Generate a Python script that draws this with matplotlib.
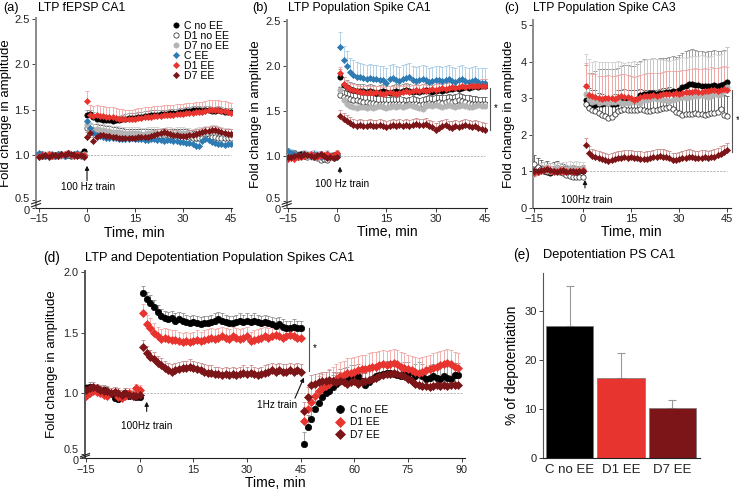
import numpy as np
import matplotlib
matplotlib.use('Agg')
import matplotlib.pyplot as plt
from matplotlib.lines import Line2D
from matplotlib.transforms import blended_transform_factory, ScaledTranslation

plt.rcParams['font.family'] = ['Liberation Sans', 'DejaVu Sans']

# ---------------- DATA ----------------
groups = ['C no EE', 'D1 no EE', 'D7 no EE', 'C EE', 'D1 EE', 'D7 EE']

# Panel (a) LTP fEPSP CA1 : baseline t=-15..-1, post t=0..45
a_t_base = np.arange(-15, 0)
a_t_post = np.arange(0, 46)
a_base_C_noEE = [1.00,1.01,0.99,1.00,1.00,0.99,1.00,1.01,1.00,1.00,0.99,1.01,1.00,1.01,1.04]
a_base_D1_noEE = [1.01,0.99,1.00,1.00,0.99,1.00,1.01,1.00,0.99,1.00,1.00,1.00,1.01,0.99,1.00]
a_base_D7_noEE = [1.00,1.00,1.01,1.00,0.99,1.00,1.00,0.99,1.01,1.00,1.00,0.99,1.00,1.00,1.01]
a_base_C_EE = [1.02,1.00,0.99,1.00,1.01,0.99,1.01,1.00,0.99,1.01,1.00,1.00,1.02,1.00,0.99]
a_base_D1_EE = [0.99,1.00,1.00,1.01,0.99,1.00,0.99,1.00,1.01,1.02,1.00,0.99,1.01,1.00,1.00]
a_base_D7_EE = [0.98,0.99,1.00,0.98,1.00,1.00,0.99,1.01,1.00,1.02,1.01,1.00,0.99,1.00,0.98]
a_post_C_noEE = [1.44,1.45,1.42,1.40,1.39,1.38,1.38,1.38,1.37,1.38,1.38,1.39,1.40,1.41,1.41,1.41,1.42,1.42,1.43,1.43,1.44,1.44,1.44,1.45,1.45,1.45,1.46,1.46,1.46,1.47,1.47,1.48,1.48,1.49,1.49,1.49,1.48,1.49,1.49,1.48,1.48,1.49,1.48,1.47,1.47,1.47]
a_post_D1_noEE = [1.30,1.28,1.27,1.27,1.26,1.26,1.25,1.25,1.24,1.24,1.23,1.23,1.22,1.22,1.22,1.21,1.21,1.21,1.22,1.22,1.22,1.21,1.21,1.21,1.22,1.22,1.21,1.21,1.22,1.22,1.22,1.21,1.20,1.19,1.19,1.18,1.18,1.18,1.19,1.20,1.20,1.19,1.18,1.18,1.18,1.18]
a_post_D7_noEE = [1.33,1.29,1.27,1.28,1.27,1.27,1.26,1.26,1.25,1.25,1.25,1.24,1.24,1.24,1.24,1.24,1.24,1.23,1.23,1.24,1.24,1.24,1.24,1.23,1.23,1.24,1.24,1.23,1.24,1.24,1.24,1.23,1.23,1.22,1.23,1.24,1.24,1.25,1.25,1.26,1.26,1.25,1.24,1.23,1.23,1.22]
a_post_C_EE = [1.37,1.30,1.24,1.22,1.21,1.20,1.19,1.19,1.18,1.18,1.17,1.17,1.17,1.17,1.18,1.17,1.17,1.17,1.16,1.16,1.17,1.17,1.16,1.16,1.15,1.16,1.16,1.15,1.15,1.14,1.14,1.13,1.13,1.12,1.10,1.10,1.15,1.17,1.16,1.14,1.13,1.12,1.12,1.11,1.12,1.12]
a_post_D1_EE = [1.59,1.44,1.43,1.44,1.43,1.43,1.42,1.42,1.42,1.41,1.40,1.40,1.39,1.39,1.39,1.40,1.41,1.41,1.42,1.42,1.42,1.43,1.43,1.43,1.44,1.44,1.44,1.44,1.45,1.45,1.45,1.46,1.46,1.46,1.47,1.47,1.47,1.48,1.49,1.50,1.50,1.49,1.48,1.48,1.47,1.46]
a_post_D7_EE = [1.20,1.24,1.15,1.20,1.22,1.22,1.21,1.21,1.20,1.20,1.19,1.19,1.19,1.19,1.19,1.19,1.20,1.20,1.20,1.20,1.21,1.22,1.23,1.24,1.25,1.24,1.23,1.22,1.22,1.21,1.21,1.21,1.22,1.22,1.23,1.24,1.25,1.26,1.26,1.27,1.27,1.26,1.25,1.24,1.23,1.23]
a_err_base = [0.02, 0.02, 0.02, 0.02, 0.03, 0.02]
a_err_post = [0.05, 0.07, 0.07, 0.05, 0.11, 0.05]

# Panel (b) LTP Population Spike CA1 : baseline t=-15..0, post t=1..45
b_t_base = np.arange(-15, 1)
b_t_post = np.arange(1, 46)
b_base_C_noEE = [1.00,1.01,1.00,0.99,1.02,1.01,1.00,1.00,0.98,1.00,1.01,1.00,0.99,1.00,1.01,1.02]
b_base_D1_noEE = [1.00,1.02,1.03,1.01,1.00,1.00,0.99,1.01,1.00,0.97,0.95,0.96,0.95,0.99,0.97,1.00]
b_base_D7_noEE = [1.01,1.00,0.99,1.00,1.00,1.02,1.00,0.98,0.98,0.97,0.99,1.00,0.98,0.99,1.00,1.01]
b_base_C_EE = [1.05,1.03,1.02,1.01,1.00,1.02,1.01,1.00,1.02,1.01,0.99,1.00,1.02,1.00,0.98,1.01]
b_base_D1_EE = [0.96,0.97,0.96,0.98,0.99,1.00,1.01,1.02,1.00,0.98,1.00,1.01,1.02,1.00,1.01,1.03]
b_base_D7_EE = [0.98,0.99,1.00,1.01,1.00,1.02,1.01,1.00,0.99,1.01,1.02,1.00,0.97,0.98,0.97,0.98]
b_post_C_noEE = [1.88,1.79,1.76,1.74,1.73,1.72,1.72,1.72,1.71,1.72,1.71,1.70,1.71,1.72,1.71,1.70,1.71,1.72,1.71,1.72,1.73,1.72,1.71,1.72,1.71,1.72,1.73,1.72,1.71,1.72,1.73,1.72,1.73,1.74,1.74,1.75,1.74,1.75,1.76,1.75,1.76,1.77,1.76,1.77,1.77]
b_post_D1_noEE = [1.68,1.65,1.64,1.63,1.62,1.62,1.61,1.60,1.60,1.59,1.59,1.58,1.58,1.58,1.57,1.57,1.58,1.57,1.58,1.57,1.56,1.57,1.58,1.57,1.56,1.57,1.58,1.59,1.58,1.59,1.60,1.59,1.60,1.61,1.60,1.61,1.62,1.61,1.60,1.59,1.58,1.58,1.57,1.57,1.57]
b_post_D7_noEE = [1.73,1.62,1.58,1.55,1.54,1.53,1.54,1.54,1.53,1.54,1.53,1.54,1.55,1.54,1.53,1.54,1.55,1.54,1.55,1.54,1.55,1.56,1.55,1.54,1.53,1.52,1.55,1.56,1.55,1.56,1.55,1.54,1.55,1.56,1.55,1.54,1.55,1.56,1.55,1.54,1.54,1.55,1.56,1.55,1.55]
b_post_C_EE = [2.21,2.06,2.00,1.93,1.90,1.88,1.87,1.86,1.85,1.86,1.85,1.85,1.84,1.84,1.81,1.85,1.86,1.84,1.83,1.85,1.86,1.87,1.84,1.83,1.84,1.85,1.84,1.82,1.83,1.84,1.84,1.83,1.84,1.85,1.83,1.82,1.84,1.85,1.83,1.82,1.83,1.84,1.82,1.81,1.81]
b_post_D1_EE = [1.92,1.80,1.76,1.74,1.73,1.72,1.71,1.71,1.70,1.71,1.70,1.71,1.70,1.69,1.70,1.71,1.70,1.69,1.70,1.71,1.72,1.71,1.72,1.73,1.72,1.73,1.72,1.73,1.74,1.73,1.74,1.75,1.74,1.75,1.76,1.75,1.76,1.77,1.76,1.77,1.77,1.78,1.77,1.78,1.78]
b_post_D7_EE = [1.44,1.41,1.38,1.36,1.34,1.33,1.34,1.33,1.33,1.34,1.33,1.33,1.34,1.33,1.32,1.33,1.34,1.33,1.34,1.33,1.34,1.33,1.34,1.35,1.34,1.34,1.35,1.33,1.32,1.29,1.31,1.33,1.34,1.32,1.31,1.33,1.32,1.33,1.34,1.33,1.32,1.33,1.31,1.30,1.29]
b_err_base = [0.03, 0.03, 0.03, 0.04, 0.03, 0.03]
b_err_post = [0.08, 0.08, 0.05, 0.16, 0.07, 0.07]

# Panel (c) LTP Population Spike CA3 (no C EE group)
c_groups = ['C no EE', 'D1 no EE', 'D7 no EE', 'D1 EE', 'D7 EE']
c_t_base = np.arange(-15, 1)
c_t_post = np.arange(1, 46)
c_base_C_noEE = [1.00,0.98,1.02,1.00,0.97,0.95,1.00,1.02,1.00,0.98,1.01,1.00,1.02,0.99,1.00,1.01]
c_base_D1_noEE = [1.20,1.12,1.05,1.00,1.02,0.98,1.00,1.03,0.98,0.96,0.90,0.86,0.85,0.85,0.85,0.85]
c_base_D7_noEE = [0.92,0.98,1.02,1.05,1.00,1.03,1.00,1.05,1.02,1.04,1.06,1.08,1.05,1.07,1.04,1.06]
c_base_D1_EE = [0.95,0.98,1.00,1.02,1.05,1.00,0.98,1.00,1.02,0.99,1.01,1.00,0.98,1.00,1.01,1.02]
c_base_D7_EE = [1.00,1.01,1.02,1.03,1.05,1.02,1.00,0.98,1.00,1.02,0.99,1.00,1.01,0.99,1.00,1.01]
c_post_C_noEE = [2.96,2.75,2.74,2.80,2.85,2.84,2.86,2.86,2.85,2.84,2.88,2.92,2.95,2.97,2.94,2.92,2.98,3.08,3.12,3.12,3.13,3.14,3.12,3.14,3.15,3.16,3.18,3.20,3.17,3.22,3.30,3.33,3.38,3.40,3.37,3.35,3.34,3.32,3.34,3.33,3.36,3.34,3.35,3.38,3.45]
c_post_D1_noEE = [2.83,2.72,2.68,2.66,2.60,2.55,2.50,2.47,2.48,2.56,2.66,2.68,2.70,2.68,2.67,2.68,2.68,2.69,2.67,2.66,2.66,2.67,2.68,2.70,2.72,2.74,2.75,2.70,2.62,2.58,2.55,2.56,2.57,2.56,2.58,2.57,2.56,2.55,2.56,2.58,2.60,2.62,2.70,2.53,2.52]
c_post_D7_noEE = [3.10,2.98,2.90,2.92,2.88,2.90,2.89,2.88,2.90,2.89,2.92,2.88,2.86,2.88,2.90,2.92,2.90,2.88,2.94,2.96,2.98,3.00,2.97,2.98,2.95,2.94,2.92,2.95,2.98,3.00,3.02,3.00,3.04,3.06,3.05,3.06,3.08,3.05,3.04,3.06,3.10,3.08,3.12,3.20,3.30]
c_post_D1_EE = [3.33,3.08,3.05,3.04,3.00,2.98,3.00,3.01,3.00,2.98,3.02,3.05,3.03,3.02,3.00,2.95,2.98,3.02,3.05,3.06,3.07,3.08,3.07,3.08,3.10,3.12,3.11,3.12,3.13,3.12,3.14,3.16,3.17,3.18,3.20,3.17,3.18,3.20,3.19,3.22,3.21,3.20,3.22,3.26,3.23]
c_post_D7_EE = [1.72,1.49,1.42,1.38,1.35,1.33,1.30,1.28,1.30,1.33,1.35,1.36,1.38,1.37,1.38,1.36,1.35,1.34,1.33,1.34,1.36,1.38,1.40,1.42,1.40,1.38,1.35,1.31,1.30,1.32,1.35,1.37,1.40,1.38,1.36,1.35,1.37,1.38,1.36,1.38,1.40,1.43,1.48,1.52,1.57]
c_err_base = [0.15, 0.25, 0.20, 0.10, 0.12]
c_err_post = [0.95, 0.55, 1.10, 0.62, 0.20]

# Panel (d) LTP and depotentiation PS CA1
d_groups = ['C no EE', 'D1 EE', 'D7 EE']
d_t_base = np.arange(-15, 1)
d_t_post = np.arange(1, 46)
d_t_dep = np.arange(46, 90)
d_base_C_noEE = [1.04,1.05,1.04,1.03,1.02,1.03,1.01,1.00,0.96,0.95,0.99,1.00,0.98,0.99,0.97,0.97]
d_base_D1_EE = [0.98,1.00,1.02,1.01,1.00,0.99,0.98,1.00,1.01,0.97,0.96,0.98,1.00,0.99,1.04,1.03]
d_base_D7_EE = [1.03,1.04,1.05,1.04,1.03,1.02,1.02,1.00,1.01,1.00,0.99,1.00,0.99,0.98,0.98,0.99]
d_post_C_noEE = [1.83,1.78,1.75,1.71,1.67,1.64,1.62,1.61,1.62,1.60,1.61,1.60,1.59,1.58,1.59,1.58,1.57,1.58,1.58,1.59,1.60,1.61,1.60,1.59,1.58,1.58,1.59,1.60,1.59,1.60,1.59,1.60,1.59,1.58,1.59,1.58,1.57,1.56,1.57,1.55,1.54,1.54,1.55,1.54,1.54]
d_post_D1_EE = [1.66,1.57,1.54,1.50,1.47,1.45,1.46,1.45,1.44,1.44,1.43,1.42,1.43,1.42,1.43,1.44,1.43,1.44,1.45,1.46,1.45,1.46,1.47,1.46,1.45,1.47,1.46,1.45,1.46,1.47,1.43,1.44,1.45,1.46,1.47,1.46,1.47,1.48,1.47,1.46,1.47,1.48,1.47,1.46,1.46]
d_post_D7_EE = [1.38,1.33,1.30,1.28,1.25,1.23,1.21,1.19,1.18,1.19,1.20,1.21,1.21,1.22,1.21,1.20,1.19,1.18,1.17,1.17,1.16,1.16,1.15,1.16,1.15,1.16,1.15,1.16,1.17,1.16,1.17,1.16,1.15,1.16,1.17,1.18,1.19,1.18,1.19,1.18,1.18,1.19,1.18,1.19,1.18]
d_dep_C_noEE = [0.58,0.72,0.79,0.87,0.92,0.97,1.00,1.02,1.05,1.08,1.10,1.11,1.12,1.13,1.13,1.14,1.10,1.07,1.09,1.12,1.14,1.15,1.16,1.17,1.17,1.16,1.15,1.14,1.16,1.16,1.11,1.14,1.16,1.14,1.12,1.13,1.14,1.13,1.12,1.14,1.13,1.12,1.15,1.15]
d_dep_D1_EE = [0.77,0.87,0.93,0.98,1.02,1.04,1.06,1.08,1.10,1.12,1.14,1.15,1.17,1.17,1.18,1.19,1.20,1.20,1.21,1.22,1.22,1.23,1.24,1.23,1.24,1.25,1.24,1.22,1.21,1.20,1.19,1.18,1.17,1.18,1.19,1.20,1.21,1.22,1.23,1.24,1.25,1.24,1.22,1.21]
d_dep_D7_EE = [0.85,0.97,1.07,1.08,1.09,1.10,1.10,1.11,1.10,1.09,1.10,1.09,1.08,1.09,1.10,1.08,1.09,1.10,1.11,1.12,1.13,1.14,1.15,1.16,1.16,1.17,1.16,1.15,1.14,1.12,1.10,1.08,1.07,1.06,1.06,1.05,1.06,1.07,1.06,1.07,1.06,1.07,1.07,1.07]
d_err_base = [0.04, 0.04, 0.04]
d_err_post = [0.06, 0.08, 0.06]
d_err_dep = [0.10, 0.12, 0.08]

# Panel (e) depotentiation bars
e_labels = ['C no EE', 'D1 EE', 'D7 EE']
e_values = [27.0, 16.5, 10.2]
e_errors = [8.3, 5.1, 1.8]

# ---------------- STYLE ----------------
style = {
    'C no EE': dict(color='#000000', ecolor='#8f8f8f', marker='o', mfc='#000000'),
    'D1 no EE': dict(color='#1a1a1a', ecolor='#5a5a5a', marker='o', mfc='white'),
    'D7 no EE': dict(color='#b4b4b4', ecolor='#d0d0d0', marker='o', mfc='#b4b4b4'),
    'C EE': dict(color='#2e7bb4', ecolor='#a8cbe4', marker='D', mfc='#2e7bb4'),
    'D1 EE': dict(color='#e8342f', ecolor='#f2a5a2', marker='D', mfc='#e8342f'),
    'D7 EE': dict(color='#7b1518', ecolor='#c98c8c', marker='D', mfc='#7b1518'),
}

W, H = 739, 490
fig = plt.figure(figsize=(W / 100, H / 100), dpi=100)


def px_axes(l, t, r, b):
    return fig.add_axes([l / W, (H - b) / H, (r - l) / W, (b - t) / H])


def draw(ax, t, y, err, g, ms):
    s = style[g]
    y = np.asarray(y, dtype=float)
    lo = np.zeros_like(y)
    hi = np.full_like(y, err)
    ax.errorbar(t, y, yerr=[lo, hi], fmt='none', ecolor=s['ecolor'],
                elinewidth=0.6, capsize=1.5, capthick=0.6, zorder=2)
    m = ms * (0.82 if s['marker'] == 'D' else 1.0)
    ax.plot(t, y, ls='none', marker=s['marker'], ms=m, mfc=s['mfc'],
            mec=s['color'], mew=0.5, zorder=3)


def style_axes(ax, left_color='#8a8a8a', tick_fs=8):
    for sp in ['top', 'right']:
        ax.spines[sp].set_visible(False)
    ax.spines['left'].set_color(left_color)
    ax.spines['left'].set_linewidth(1.4)
    ax.spines['bottom'].set_color('#222222')
    ax.spines['bottom'].set_linewidth(0.8)
    ax.tick_params(direction='out', length=3, width=0.6, labelsize=tick_fs,
                   pad=1.5, colors='#222222')


def add_break(ax, y_lo, y_hi):
    bb = ax.get_position()
    wpx = bb.width * W
    hpx = bb.height * H
    ylim = ax.get_ylim()
    upp = (ylim[1] - ylim[0]) / hpx
    tr = blended_transform_factory(ax.transAxes, ax.transData)
    dx = 4.5 / wpx
    for f in (0.35, 0.72):
        yc = y_lo + (y_hi - y_lo) * f
        ax.plot([-dx, dx], [yc - 1.6 * upp, yc + 1.6 * upp], transform=tr,
                color='#222222', lw=0.8, clip_on=False, zorder=5)
    # separate the "0" and "0.5" tick labels vertically
    gap_px = (y_hi - y_lo) / upp
    need = max(0.0, 11.0 - gap_px)
    down = min(1.5, need / 2.0)
    up = need - down
    labels = ax.get_yticklabels()
    labels[0].set_transform(labels[0].get_transform() +
                            ScaledTranslation(0, -down / 100.0, fig.dpi_scale_trans))
    labels[1].set_transform(labels[1].get_transform() +
                            ScaledTranslation(0, up / 100.0, fig.dpi_scale_trans))


def panel_text(xl, xt, y, label, title, fs):
    fig.text(xl / W, 1 - y / H, label, fontsize=fs + 0.5, va='center', ha='left')
    fig.text(xt / W, 1 - y / H, title, fontsize=fs, va='center', ha='left')


def arrow(ax, x0, y0, x1, y1):
    ax.annotate('', xy=(x1, y1), xytext=(x0, y0),
                arrowprops=dict(arrowstyle='-|>', lw=0.8, color='#111111',
                                mutation_scale=6, shrinkA=0, shrinkB=0),
                annotation_clip=False)


# ---------------- PANEL (a) ----------------
axa = px_axes(36, 18, 232.3, 208)
a_base = [a_base_C_noEE, a_base_D1_noEE, a_base_D7_noEE, a_base_C_EE, a_base_D1_EE, a_base_D7_EE]
a_post = [a_post_C_noEE, a_post_D1_noEE, a_post_D7_noEE, a_post_C_EE, a_post_D1_EE, a_post_D7_EE]
axa.hlines(1.0, 0, 45, colors='#aaaaaa', linestyles=(0, (2.5, 1.5)), lw=0.6, zorder=1)
for i, g in enumerate(groups):
    draw(axa, a_t_base, a_base[i], a_err_base[i], g, 3.8)
    draw(axa, a_t_post, a_post[i], a_err_post[i], g, 3.8)
axa.set_xlim(-15.94, 45.4)
axa.set_ylim(0.412, 2.511)
axa.set_xticks([-15, 0, 15, 30, 45])
axa.set_yticks([0.412, 0.5, 1.0, 1.5, 2.0, 2.5])
axa.set_yticklabels(['0', '0.5', '1.0', '1.5', '2.0', '2.5'])
style_axes(axa)
add_break(axa, 0.412, 0.5)
axa.set_xlabel('Time, min', fontsize=10, labelpad=1)
axa.set_ylabel('Fold change in amplitude', fontsize=9.5, labelpad=2)
arrow(axa, 0.0, 0.714, 0.0, 0.879)
axa.text(0.3, 0.648, '100 Hz train', fontsize=7.2, ha='center', va='center')
handles = [Line2D([], [], ls='none', marker=style[g]['marker'],
                  ms=3.8 * (0.82 if style[g]['marker'] == 'D' else 1.0),
                  mfc=style[g]['mfc'], mec=style[g]['color'], mew=0.5) for g in groups]
axa.legend(handles, groups, loc='upper left', bbox_to_anchor=(0.69, 0.985),
           frameon=False, fontsize=7.6, handlelength=0.8, handletextpad=0.4,
           labelspacing=0.0, borderpad=0, borderaxespad=0)
panel_text(3, 38, 8, '(a)', 'LTP fEPSP CA1', 8.7)

# ---------------- PANEL (b) ----------------
axb = px_axes(286.7, 20, 487.3, 207.7)
b_base = [b_base_C_noEE, b_base_D1_noEE, b_base_D7_noEE, b_base_C_EE, b_base_D1_EE, b_base_D7_EE]
b_post = [b_post_C_noEE, b_post_D1_noEE, b_post_D7_noEE, b_post_C_EE, b_post_D1_EE, b_post_D7_EE]
axb.hlines(1.0, 0, 45, colors='#aaaaaa', linestyles=(0, (2.5, 1.5)), lw=0.6, zorder=1)
for i, g in enumerate(groups):
    draw(axb, b_t_base, b_base[i], b_err_base[i], g, 3.8)
    draw(axb, b_t_post, b_post[i], b_err_post[i], g, 3.8)
axb.set_xlim(-15.3, 45.7)
axb.set_ylim(0.422, 2.508)
axb.set_xticks([-15, 0, 15, 30, 45])
axb.set_yticks([0.422, 0.5, 1.0, 1.5, 2.0, 2.5])
axb.set_yticklabels(['0', '0.5', '1.0', '1.5', '2.0', '2.5'])
style_axes(axb)
add_break(axb, 0.422, 0.5)
axb.set_xlabel('Time, min', fontsize=10, labelpad=1)
axb.set_ylabel('Fold change in amplitude', fontsize=9.5, labelpad=2)
arrow(axb, 0.9, 0.81, 0.9, 0.878)
axb.text(1.4, 0.69, '100 Hz train', fontsize=7.2, ha='center', va='center')
axb.plot([46.5, 46.5], [1.754, 1.28], color='#555555', lw=0.8, clip_on=False)
axb.text(47.6, 1.53, '*', fontsize=7, ha='left', va='center', clip_on=False)
panel_text(252, 288.3, 8, '(b)', 'LTP Population Spike CA1', 8.7)

# ---------------- PANEL (c) ----------------
axc = px_axes(532.7, 20, 730.7, 207.7)
c_base = [c_base_C_noEE, c_base_D1_noEE, c_base_D7_noEE, c_base_D1_EE, c_base_D7_EE]
c_post = [c_post_C_noEE, c_post_D1_noEE, c_post_D7_noEE, c_post_D1_EE, c_post_D7_EE]
axc.hlines(1.0, 0, 45, colors='#aaaaaa', linestyles=(0, (2.5, 1.5)), lw=0.6, zorder=1)
for i, g in enumerate(c_groups):
    draw(axc, c_t_base, c_base[i], c_err_base[i], g, 3.8)
    draw(axc, c_t_post, c_post[i], c_err_post[i], g, 3.8)
axc.set_xlim(-15.5, 46.05)
axc.set_ylim(0, 5.14)
axc.set_xticks([-15, 0, 15, 30, 45])
axc.set_yticks([0, 1, 2, 3, 4, 5])
style_axes(axc)
axc.set_xlabel('Time, min', fontsize=10, labelpad=1)
axc.set_ylabel('Fold change in amplitude', fontsize=9.5, labelpad=4)
arrow(axc, 0.76, 0.54, 0.76, 0.76)
axc.text(1.3, 0.21, '100Hz train', fontsize=7.2, ha='center', va='center')
axc.plot([46.55, 46.55], [3.22, 1.53], color='#555555', lw=0.8, clip_on=False)
axc.text(47.6, 2.4, '*', fontsize=7, ha='left', va='center', clip_on=False)
panel_text(504.3, 533.3, 8, '(c)', 'LTP Population Spike CA3', 8.7)

# ---------------- PANEL (d) ----------------
axd = px_axes(85, 270.7, 465, 458.3)
d_base = [d_base_C_noEE, d_base_D1_EE, d_base_D7_EE]
d_post = [d_post_C_noEE, d_post_D1_EE, d_post_D7_EE]
d_dep = [d_dep_C_noEE, d_dep_D1_EE, d_dep_D7_EE]
axd.hlines(1.0, 0, 90, colors='#aaaaaa', linestyles=(0, (2.5, 1.5)), lw=0.6, zorder=1)
for i, g in enumerate(d_groups):
    draw(axd, d_t_base, d_base[i], d_err_base[i], g, 4.6)
    draw(axd, d_t_post, d_post[i], d_err_post[i], g, 4.6)
    draw(axd, d_t_dep, d_dep[i], d_err_dep[i], g, 4.6)
axd.set_xlim(-15.28, 90.92)
axd.set_ylim(0.463, 2.013)
axd.set_xticks([-15, 0, 15, 30, 45, 60, 75, 90])
axd.set_yticks([0.463, 0.5, 1.0, 1.5, 2.0])
axd.set_yticklabels(['0', '0.5', '1.0', '1.5', '2.0'])
style_axes(axd, left_color='#555555', tick_fs=7.8)
add_break(axd, 0.463, 0.5)
axd.set_xlabel('Time, min', fontsize=10, labelpad=1)
axd.set_ylabel('Fold change in amplitude', fontsize=9.5, labelpad=4)
arrow(axd, 1.96, 0.85, 1.96, 0.93)
axd.text(2.05, 0.73, '100Hz train', fontsize=7.2, ha='center', va='center')
arrow(axd, 43.4, 0.96, 45.9, 1.13)
axd.text(38.4, 0.90, '1Hz train', fontsize=7.2, ha='center', va='center')
axd.plot([47.3, 47.3], [1.537, 1.187], color='#555555', lw=0.8)
axd.text(48.5, 1.377, '*', fontsize=7, ha='left', va='center')
dh = [Line2D([], [], ls='none', marker=style[g]['marker'],
             ms=5.6 * (0.82 if style[g]['marker'] == 'D' else 1.0),
             mfc=style[g]['mfc'], mec=style[g]['color'], mew=0.5) for g in d_groups]
axd.legend(dh, d_groups, loc='upper left', bbox_to_anchor=(0.66, 0.285),
           frameon=False, fontsize=7.4, handlelength=0.9, handletextpad=0.5,
           labelspacing=0.25, borderpad=0, borderaxespad=0)
panel_text(43, 85, 258, '(d)', 'LTP and Depotentiation Population Spikes CA1', 9.3)

# ---------------- PANEL (e) ----------------
axe = px_axes(542.7, 273.3, 700, 458.3)
e_colors = ['#000000', '#e8342f', '#7b1518']
xe = np.arange(len(e_values))
axe.bar(xe, e_values, width=0.92, color=e_colors, edgecolor='#777777', lw=0.5, zorder=2)
axe.errorbar(xe, e_values, yerr=[np.zeros(len(e_values)), e_errors], fmt='none',
             ecolor='#999999', elinewidth=0.8, capsize=3, capthick=0.8, zorder=1)
axe.set_xlim(-0.526, 2.54)
axe.set_ylim(0, 37.8)
axe.set_xticks(xe)
axe.set_xticklabels(e_labels, fontsize=9.5)
axe.set_yticks([0, 10, 20, 30])
style_axes(axe, left_color='#555555')
axe.tick_params(axis='x', length=0, pad=4, labelsize=9.5)
axe.spines['left'].set_linewidth(0.8)
axe.set_ylabel('% of depotentiation', fontsize=10, labelpad=4)
panel_text(513, 543, 255, '(e)', 'Depotentiation PS CA1', 9.3)

fig.savefig('out.png', dpi=100)
